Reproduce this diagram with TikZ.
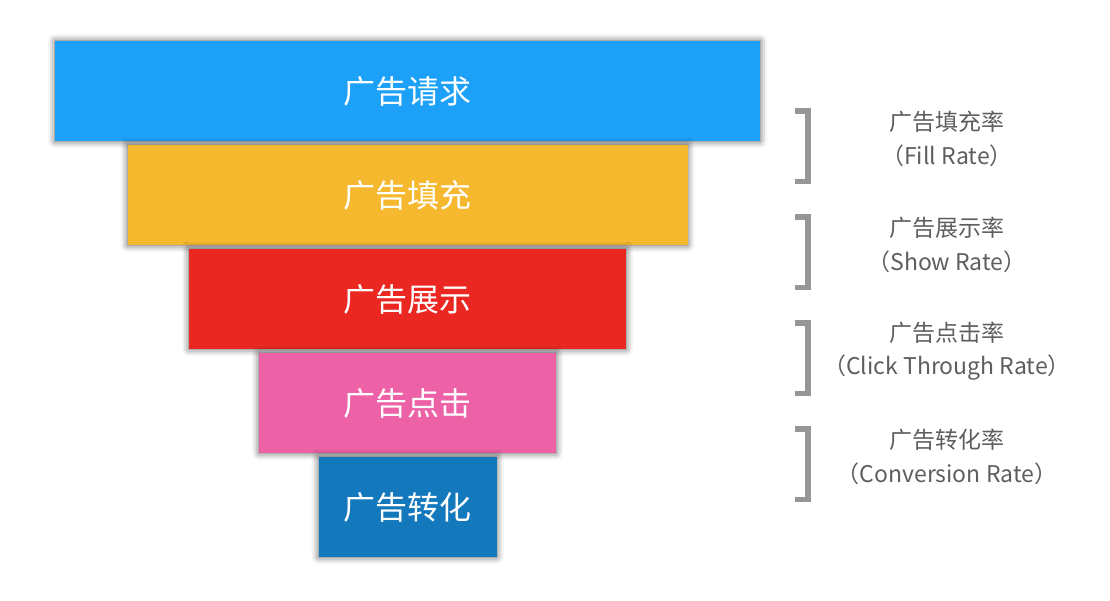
\documentclass[tikz,border=0pt]{standalone}
\usepackage{fontspec}
\setmainfont{Noto Sans CJK SC}
\usetikzlibrary{shadows.blur}

\definecolor{reqblue}{RGB}{29,161,248}
\definecolor{fillyellow}{RGB}{245,184,46}
\definecolor{showred}{RGB}{234,40,33}
\definecolor{clickpink}{RGB}{237,97,167}
\definecolor{convblue}{RGB}{20,120,189}
\definecolor{bracketgray}{RGB}{150,150,150}
\definecolor{rategray}{RGB}{94,94,94}

\begin{document}
\begin{tikzpicture}[x=1pt, y=-1pt,
    bar/.style={minimum width=#1, minimum height=100pt, inner sep=0pt, text=white,
      font=\fontsize{32}{38}\selectfont,
      blur shadow={shadow xshift=0pt, shadow yshift=0pt, shadow blur radius=7pt, shadow opacity=65}},
    bracket/.style={draw=bracketgray, line width=5.5pt},
    ratelabel/.style={text=rategray, font=\fontsize{23}{33.5}\selectfont, align=center}]
  \useasboundingbox (0,0) rectangle (1110,600);

  % Funnel bars
  \node[bar=705pt, fill=reqblue]    (request)    at (407.5,91)  {广告请求};
  \node[bar=560pt, fill=fillyellow] (fill)       at (407.5,195) {广告填充};
  \node[bar=437pt, fill=showred]    (show)       at (407.5,299) {广告展示};
  \node[bar=297pt, fill=clickpink]  (click)      at (407.5,403) {广告点击};
  \node[bar=178pt, fill=convblue]   (conversion) at (407.5,507) {广告转化};

  % Brackets with rates
  \draw[bracket] (795,110.75) -- (808,110.75) -- (808,181.25) -- (795,181.25);
  \draw[bracket] (795,216.75) -- (808,216.75) -- (808,287.25) -- (795,287.25);
  \draw[bracket] (795,322.75) -- (808,322.75) -- (808,393.25) -- (795,393.25);
  \draw[bracket] (795,428.75) -- (808,428.75) -- (808,499.25) -- (795,499.25);

  \node[ratelabel] (fillrate)  at (947,139) {广告填充率\\（Fill Rate）};
  \node[ratelabel] (showrate)  at (947,245) {广告展示率\\（Show Rate）};
  \node[ratelabel] (clickrate) at (947,351) {广告点击率\\（Click Through Rate）};
  \node[ratelabel] (convrate)  at (947,457) {广告转化率\\（Conversion Rate）};
\end{tikzpicture}
\end{document}
